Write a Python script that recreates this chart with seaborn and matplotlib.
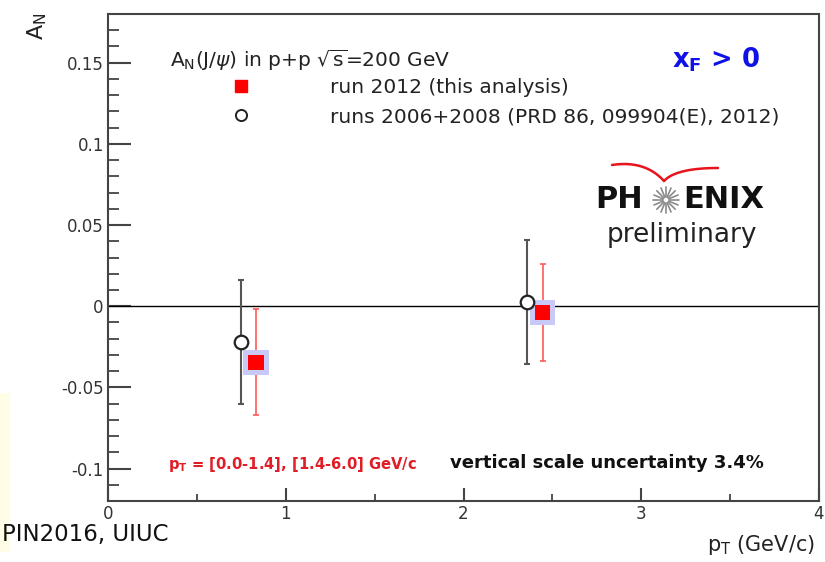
import numpy as np
import pandas as pd
import matplotlib
matplotlib.use("Agg")
import matplotlib.pyplot as plt
import seaborn as sns
from matplotlib.lines import Line2D
from matplotlib.patches import Rectangle

# data
pt_2012 = [0.833, 2.445]
an_2012 = [-0.0345, -0.0039]
err_2012 = [0.0328, 0.0300]

pt_0608 = [0.749, 2.355]
an_0608 = [-0.0220, 0.0027]
err_0608 = [0.0380, 0.0380]

x_ticks = [0, 1, 2, 3, 4]
y_ticks = [-0.1, -0.05, 0, 0.05, 0.1, 0.15]
y_tick_labels = ["-0.1", "-0.05", "0", "0.05", "0.1", "0.15"]

df_2012 = pd.DataFrame({"pt": pt_2012, "an": an_2012, "err": err_2012})
df_0608 = pd.DataFrame({"pt": pt_0608, "an": an_0608, "err": err_0608})

sns.set_theme(style="white")
plt.rcParams["font.family"] = ["DejaVu Sans"]
plt.rcParams["mathtext.fontset"] = "dejavusans"

W, H = 825, 562
fig = plt.figure(figsize=(W / 100, H / 100), dpi=100)
fig.patch.set_facecolor("white")

# main axes placed by pixel box (108..819, 14..501)
ax = fig.add_axes([108 / W, 1 - 501 / H, (819 - 108) / W, (501 - 14) / H])
ax.set_facecolor("white")
ax.set_xlim(0, 4)
ax.set_ylim(-0.12, 0.18)

ax.axhline(0, color="black", lw=1.0, zorder=1)

# error bars
ax.errorbar(df_0608["pt"], df_0608["an"], yerr=df_0608["err"], fmt="none",
            ecolor="#555555", elinewidth=1.5, capsize=2.5, capthick=1.5, zorder=2)
ax.errorbar(df_2012["pt"], df_2012["an"], yerr=df_2012["err"], fmt="none",
            ecolor="#ff5a5a", elinewidth=1.2, capsize=2.5, capthick=1.2, zorder=2)

# markers
sns.scatterplot(data=df_0608, x="pt", y="an", ax=ax, marker="o", s=95,
                facecolor="white", edgecolor="#222222", linewidth=1.6, zorder=4)
sns.scatterplot(data=df_2012, x="pt", y="an", ax=ax, marker="s", s=330,
                color="#c9c9f7", edgecolor="none", linewidth=0, zorder=3)
sns.scatterplot(data=df_2012, x="pt", y="an", ax=ax, marker="s", s=120,
                color="#ff0000", edgecolor="none", linewidth=0, zorder=5)

# ROOT-like axis styling
for side in ["left", "bottom", "top", "right"]:
    ax.spines[side].set_color("#444444")
    ax.spines[side].set_linewidth(1.5)
ax.set_xticks(x_ticks)
ax.set_xticks([0.5, 1.5, 2.5, 3.5], minor=True)
ax.set_yticks(y_ticks)
ax.set_yticklabels(y_tick_labels)
ax.set_yticks(np.arange(-0.11, 0.18, 0.01), minor=True)
ax.tick_params(axis="y", which="major", direction="in", length=16.5, width=1.5,
               color="#444444", labelsize=12, labelcolor="#333333", pad=3,
               left=True, right=False)
ax.tick_params(axis="y", which="minor", direction="in", length=8, width=1.3,
               color="#444444", left=True, right=False)
ax.tick_params(axis="x", which="major", direction="in", length=9.5, width=1.5,
               color="#444444", labelsize=12, labelcolor="#333333", pad=3,
               bottom=True, top=False)
ax.tick_params(axis="x", which="minor", direction="in", length=5, width=1.3,
               color="#444444", bottom=True, top=False)
ax.set_xlabel("")
ax.set_ylabel("")

# legend
handles = [
    Line2D([], [], marker="s", color="#ff0000", linestyle="none", markersize=9),
    Line2D([], [], marker="o", markerfacecolor="white", markeredgecolor="#222222",
           markeredgewidth=1.4, linestyle="none", markersize=8),
]
labels = ["run 2012 (this analysis)", "runs 2006+2008 (PRD 86, 099904(E), 2012)"]
ax.legend(handles, labels, loc="upper left", frameon=False, fontsize=14.5,
          bbox_to_anchor=(221 / W, 1 - 78 / H), bbox_transform=fig.transFigure,
          borderpad=0, borderaxespad=0, handlelength=2.0, handletextpad=3.4,
          labelspacing=0.5, labelcolor="#222222")

# overlay in pixel coordinates for annotations
ov = fig.add_axes([0, 0, 1, 1], zorder=10)
ov.set_xlim(0, W)
ov.set_ylim(H, 0)
ov.axis("off")
ov.patch.set_alpha(0)

ov.add_patch(Rectangle((0, 393), 10, 159, color="#fffde6", lw=0))

ov.text(170, 60, r"A$_{\mathrm{N}}$(J/$\psi$) in p+p $\sqrt{\mathrm{s}}$=200 GeV",
        fontsize=14.5, color="#222222", ha="left", va="center")
ov.text(672, 60, r"$\mathbf{x_F}$ > 0", fontsize=18.5, color="#1010e8",
        fontweight="bold", ha="left", va="center")

# PHENIX logo
ov.text(595, 200, "PH", fontsize=22, fontweight="bold", color="#111111",
        ha="left", va="center")
ov.text(683, 200, "ENIX", fontsize=22, fontweight="bold", color="#111111",
        ha="left", va="center")
ang = np.linspace(0, 2 * np.pi, 16, endpoint=False)
for a in ang:
    ov.plot([666 + 3 * np.cos(a), 666 + 13 * np.cos(a)],
            [200 + 3 * np.sin(a), 200 + 13 * np.sin(a)],
            color="#8a8a8a", lw=1.2)
t = np.linspace(0, 1, 30)
ov.plot((1 - t) ** 2 * 612 + 2 * (1 - t) * t * 645 + t ** 2 * 664,
        (1 - t) ** 2 * 165 + 2 * (1 - t) * t * 160 + t ** 2 * 181,
        color="#e8141c", lw=1.8)
ov.plot((1 - t) ** 2 * 664 + 2 * (1 - t) * t * 676 + t ** 2 * 718,
        (1 - t) ** 2 * 181 + 2 * (1 - t) * t * 168 + t ** 2 * 168,
        color="#e8141c", lw=1.8)
ov.text(682, 235, "preliminary", fontsize=19, color="#222222",
        ha="center", va="center")

ov.text(168, 465, r"$\mathbf{p_T}$ = [0.0-1.4], [1.4-6.0] GeV/c", fontsize=10.6,
        fontweight="bold", color="#e01e28", ha="left", va="center")
ov.text(450, 463, "vertical scale uncertainty 3.4%", fontsize=13,
        fontweight="bold", color="#111111", ha="left", va="center")

ov.text(2, 534, "PIN2016, UIUC", fontsize=16.5, color="#111111",
        ha="left", va="center")
ov.text(815, 545, r"p$_{\mathrm{T}}$ (GeV/c)", fontsize=15, color="#222222",
        ha="right", va="center")
ov.text(37, 13, r"A$_{\mathrm{N}}$", fontsize=16, color="#222222",
        rotation=90, ha="center", va="top")

fig.savefig("out.png", dpi=100)
